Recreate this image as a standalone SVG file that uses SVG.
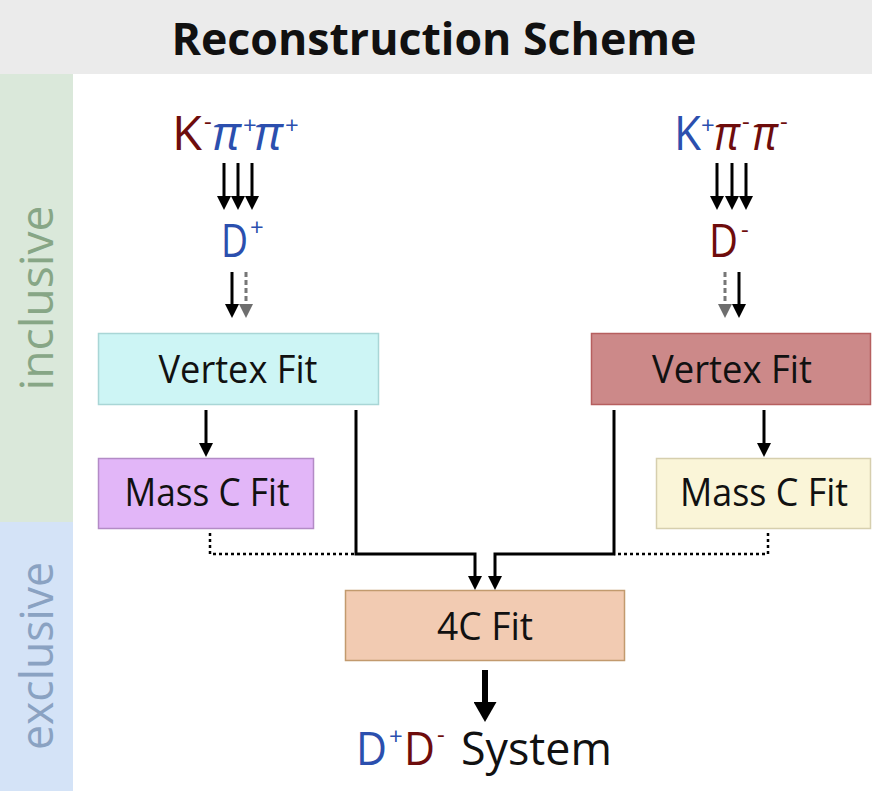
<svg xmlns="http://www.w3.org/2000/svg" width="872" height="791" viewBox="0 0 872 791">
<defs>
<style>
.t{font-family:"Open Sans","Noto Sans","DejaVu Sans",sans-serif;}
.lbl{font-size:38px;fill:#111;text-anchor:middle;}
.blue{fill:#2b4fae;}
.red{fill:#6e0c0c;}
.pi{font-style:italic;}
.ln{stroke:#000;stroke-width:3;fill:none;}
.dash{stroke:#777;stroke-width:3;fill:none;stroke-dasharray:5 3;}
.dot{stroke:#000;stroke-width:2.5;fill:none;stroke-dasharray:3 3;}
</style>
<marker id="ah" markerUnits="userSpaceOnUse" markerWidth="14" markerHeight="14" refX="2" refY="7" orient="auto" viewBox="0 0 14 14">
<path d="M0,0 L14,7 L0,14 z" fill="#000"/>
</marker>
<marker id="ahg" markerUnits="userSpaceOnUse" markerWidth="14" markerHeight="14" refX="2" refY="7" orient="auto" viewBox="0 0 14 14">
<path d="M0,0 L14,7 L0,14 z" fill="#6e6e6e"/>
</marker>
<marker id="ahb" markerUnits="userSpaceOnUse" markerWidth="20" markerHeight="23" refX="2" refY="11.5" orient="auto" viewBox="0 0 20 23">
<path d="M0,0 L20,11.5 L0,23 z" fill="#000"/>
</marker>
</defs>
<rect x="0" y="0" width="872" height="791" fill="#fff"/>
<g id="title">
<rect x="0" y="0" width="872" height="74" fill="#ebebeb"/>
<text class="t" x="434" y="55" font-size="45" font-weight="bold" fill="#111" text-anchor="middle" textLength="525" lengthAdjust="spacingAndGlyphs">Reconstruction Scheme</text>
</g>
<g id="band-inclusive">
<rect x="0" y="74" width="73" height="448" fill="#dae8da"/>
<text class="t" transform="translate(53,298) rotate(-90)" font-size="46" fill="#87a686" text-anchor="middle" textLength="185" lengthAdjust="spacingAndGlyphs">inclusive</text>
</g>
<g id="band-exclusive">
<rect x="0" y="522" width="73" height="269" fill="#d4e3f7"/>
<text class="t" transform="translate(53,656) rotate(-90)" font-size="46" fill="#8aa2c2" text-anchor="middle" textLength="188" lengthAdjust="spacingAndGlyphs">exclusive</text>
</g>
<g id="kpipi-left" class="t">
<text y="150" font-size="47"><tspan class="red" x="172" textLength="30" lengthAdjust="spacingAndGlyphs">K</tspan><tspan class="red" x="204" y="130" font-size="24">-</tspan><tspan class="blue pi" x="212" y="150" textLength="29" lengthAdjust="spacingAndGlyphs">π</tspan><tspan class="blue" x="243" y="134" font-size="24">+</tspan><tspan class="blue pi" x="254" y="150" textLength="29" lengthAdjust="spacingAndGlyphs">π</tspan><tspan class="blue" x="285" y="134" font-size="24">+</tspan></text>
</g>
<g id="dplus" class="t">
<text y="257" font-size="45"><tspan class="blue" x="221" textLength="27" lengthAdjust="spacingAndGlyphs">D</tspan><tspan class="blue" x="250" y="236" font-size="24">+</tspan></text>
</g>
<g id="kpipi-right" class="t">
<text y="150" font-size="47"><tspan class="blue" x="674" textLength="27" lengthAdjust="spacingAndGlyphs">K</tspan><tspan class="blue" x="701" y="134" font-size="24">+</tspan><tspan class="red pi" x="714" y="150" textLength="26" lengthAdjust="spacingAndGlyphs">π</tspan><tspan class="red" x="742" y="130" font-size="24">-</tspan><tspan class="red pi" x="752" y="150" textLength="26" lengthAdjust="spacingAndGlyphs">π</tspan><tspan class="red" x="780" y="130" font-size="24">-</tspan></text>
</g>
<g id="dminus" class="t">
<text y="257" font-size="45"><tspan class="red" x="709" textLength="29" lengthAdjust="spacingAndGlyphs">D</tspan><tspan class="red" x="741" y="238" font-size="24">-</tspan></text>
</g>
<g id="vertex-left">
<rect x="98.5" y="333.5" width="280" height="71" fill="#cdf5f5" stroke="#a9d6d6" stroke-width="1.5"/>
<text class="t lbl" x="238" y="383" textLength="159" lengthAdjust="spacingAndGlyphs">Vertex Fit</text>
</g>
<g id="vertex-right">
<rect x="591.5" y="333.5" width="279" height="71" fill="#cc8989" stroke="#b65f5f" stroke-width="1.5"/>
<text class="t lbl" x="732" y="383" textLength="160" lengthAdjust="spacingAndGlyphs">Vertex Fit</text>
</g>
<g id="mass-left">
<rect x="98.5" y="458.5" width="215" height="70" fill="#e2b6f8" stroke="#b38bc6" stroke-width="1.5"/>
<text class="t lbl" x="207" y="506" font-size="36" textLength="165" lengthAdjust="spacingAndGlyphs">Mass C Fit</text>
</g>
<g id="mass-right">
<rect x="656.5" y="458.5" width="214" height="70" fill="#faf5d8" stroke="#d6cfae" stroke-width="1.5"/>
<text class="t lbl" x="764" y="506" font-size="36" textLength="168" lengthAdjust="spacingAndGlyphs">Mass C Fit</text>
</g>
<g id="fit4c">
<rect x="345.5" y="590.5" width="279" height="70" fill="#f2cbb2" stroke="#c29a6e" stroke-width="1.5"/>
<text class="t lbl" x="485" y="640" font-size="35" textLength="96" lengthAdjust="spacingAndGlyphs">4C Fit</text>
</g>
<g id="system" class="t">
<text y="765" font-size="46"><tspan class="blue" x="356" textLength="31" lengthAdjust="spacingAndGlyphs">D</tspan><tspan class="blue" x="389" y="745" font-size="24">+</tspan><tspan class="red" x="404" y="765" textLength="31" lengthAdjust="spacingAndGlyphs">D</tspan><tspan class="red" x="437" y="743" font-size="24">-</tspan><tspan x="461" y="765" fill="#111" textLength="151" lengthAdjust="spacingAndGlyphs">System</tspan></text>
</g>
<g id="connectors">
<line class="ln" x1="224" y1="163" x2="224" y2="198" marker-end="url(#ah)"/>
<line class="ln" x1="238" y1="163" x2="238" y2="198" marker-end="url(#ah)"/>
<line class="ln" x1="252" y1="163" x2="252" y2="198" marker-end="url(#ah)"/>
<line class="ln" x1="717" y1="163" x2="717" y2="198" marker-end="url(#ah)"/>
<line class="ln" x1="732" y1="163" x2="732" y2="198" marker-end="url(#ah)"/>
<line class="ln" x1="746" y1="163" x2="746" y2="198" marker-end="url(#ah)"/>
<line class="dash" x1="246" y1="272" x2="246" y2="306" marker-end="url(#ahg)"/>
<line class="ln" x1="232" y1="272" x2="232" y2="306" marker-end="url(#ah)"/>
<line class="dash" x1="725" y1="272" x2="725" y2="306" marker-end="url(#ahg)"/>
<line class="ln" x1="739" y1="272" x2="739" y2="306" marker-end="url(#ah)"/>
<line class="ln" x1="206" y1="410" x2="206" y2="445" marker-end="url(#ah)"/>
<line class="ln" x1="764" y1="410" x2="764" y2="445" marker-end="url(#ah)"/>
<path class="dot" d="M210,533 V554 H356"/>
<path class="dot" d="M768,533 V554 H614"/>
<path class="ln" d="M356,410 V554 H475 V578" marker-end="url(#ah)"/>
<path class="ln" d="M614,410 V554 H495 V578" marker-end="url(#ah)"/>
<line x1="485" y1="670" x2="485" y2="704" stroke="#000" stroke-width="6" marker-end="url(#ahb)"/>
</g>
</svg>
